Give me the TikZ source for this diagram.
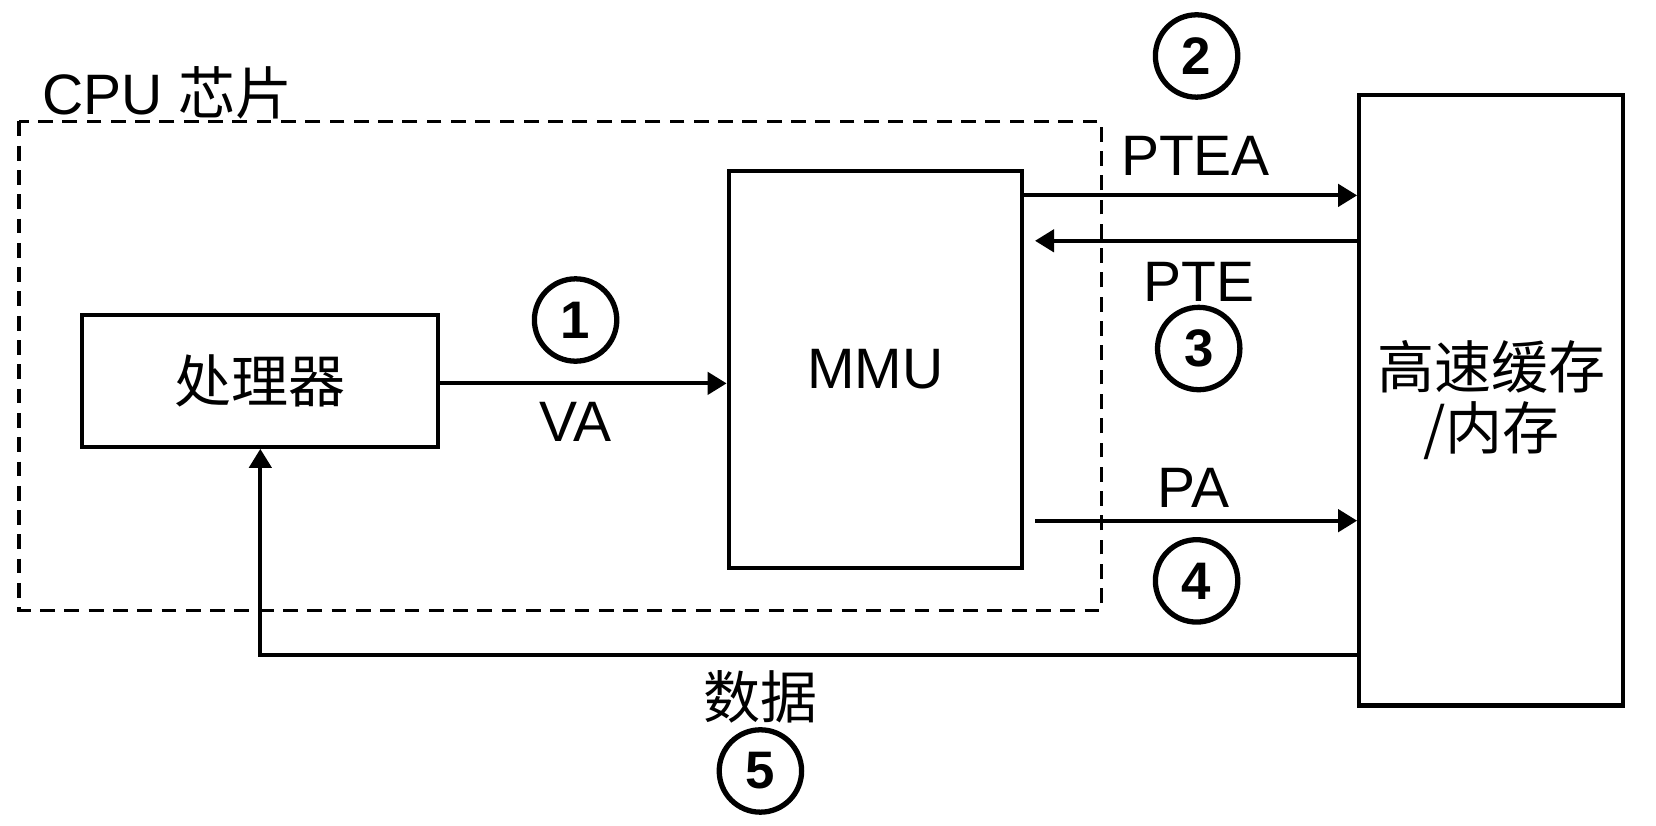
\documentclass[tikz,border=0pt]{standalone}
\usepackage{fontspec}
\setmainfont{Liberation Sans}
\newfontfamily\cjk{Noto Sans CJK SC}
\usetikzlibrary{arrows.meta,calc}
\begin{document}
\begin{tikzpicture}[x=0.5pt,y=-0.5pt,
  every node/.style={font=\fontsize{27}{32}\selectfont},
  box/.style={draw,line width=2pt,inner sep=0pt},
  arr/.style={line width=1.9pt,-{Triangle[length=9pt,width=10.5pt]}},
  num/.style={circle,draw,line width=2.5pt,minimum size=39pt,inner sep=0pt,font=\fontsize{25}{28}\selectfont\bfseries},
  lbl/.style={inner sep=0pt}]
\useasboundingbox (0,0) rectangle (1568,782);
% CPU chip dashed boundary
\draw[line width=1.8pt,dash pattern=on 7pt off 4.5pt] (18,115) rectangle (1043,578);
\node[lbl,anchor=west] (cpu) at (40,88) {CPU {\cjk 芯片}};
% boxes
\node[box,minimum width=168.5pt,minimum height=62.5pt] (proc) at (246.5,360.5) {{\cjk 处理器}};
\node[box,minimum width=139pt,minimum height=188pt] (mmu) at (829,350) {MMU};
\node[box,minimum width=125pt,minimum height=289pt,align=center,font=\fontsize{27}{29}\cjk] (mem) at (1412,379) {高速缓存\\/内存};
% row coordinates
\coordinate (yva) at (0,363);
\coordinate (yptea) at (0,185);
\coordinate (ypte) at (0,228);
\coordinate (ypa) at (0,493);
\coordinate (ydata) at (0,620);
% connectors
\draw[arr] (proc.east |- yva) -- (mmu.west |- yva);
\draw[arr] (mmu.east |- yptea) -- (mem.west |- yptea);
\draw[arr] (mem.west |- ypte) -- ([xshift=5pt]mmu.east |- ypte);
\draw[arr] ([xshift=5pt]mmu.east |- ypa) -- (mem.west |- ypa);
\draw[arr] (mem.west |- ydata) -| (proc.south);
% labels
\node[lbl] (lva) at (545,399) {VA};
\node[num] (n1) at (545,303) {1};
\node[lbl] (lptea) at (1132,148) {PTEA};
\node[num] (n2) at (1133,53) {2};
\node[lbl] (lpte) at (1135,267) {PTE};
\node[num] (n3) at (1135,330) {3};
\node[lbl] (lpa) at (1130,462) {PA};
\node[num] (n4) at (1133,550) {4};
\node[lbl,font=\fontsize{27}{32}\cjk] (ldata) at (720,660) {数据};
\node[num] (n5) at (720,730) {5};
\end{tikzpicture}
\end{document}
